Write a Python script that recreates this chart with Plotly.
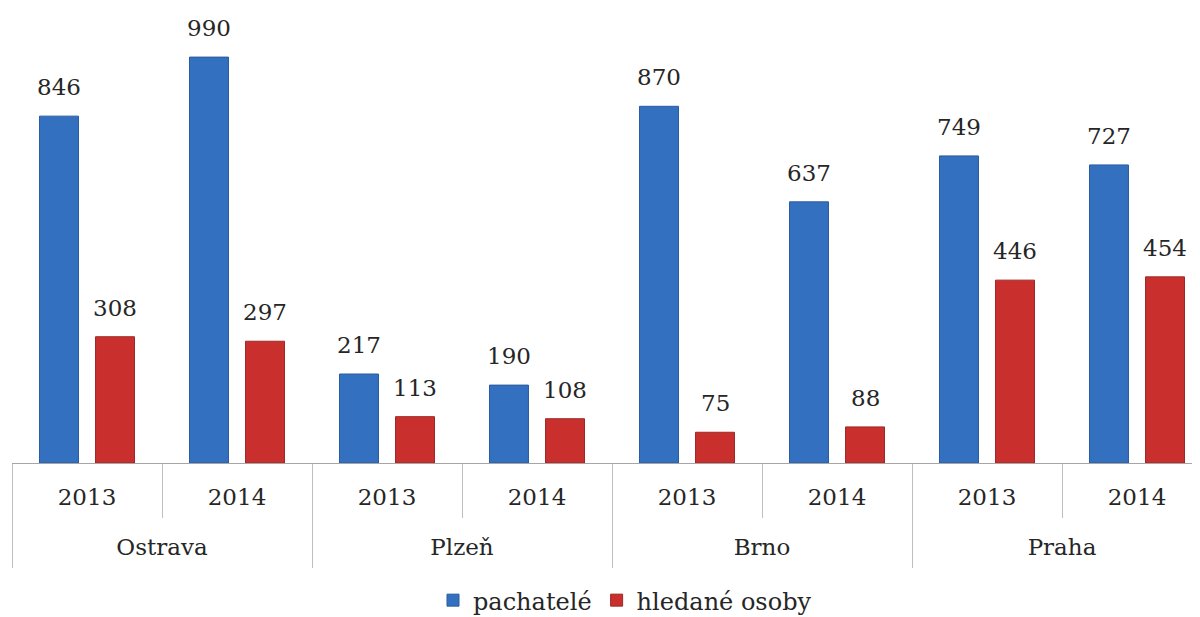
import plotly.graph_objects as go

cities = ["Ostrava", "Ostrava", "Plzeň", "Plzeň", "Brno", "Brno", "Praha", "Praha"]
years = ["2013", "2014", "2013", "2014", "2013", "2014", "2013", "2014"]
pachatele = [846, 990, 217, 190, 870, 637, 749, 727]
hledane = [308, 297, 113, 108, 75, 88, 446, 454]
series_names = ["pachatelé", "hledané osoby"]
city_names = ["Ostrava", "Plzeň", "Brno", "Praha"]

BLUE = "#3470C0"
BLUE_LINE = "#2A5C9E"
RED = "#C9302D"
RED_LINE = "#9E2826"
FONT = "DejaVu Serif, serif"
TXT = "#262626"
GRID = "#BFBFBF"
BARGAP = 0.253
GROUPGAP = 0.304
XRANGE = [-0.5, 7.42]
FS = 23

n = len(years)
per_city = n // len(city_names)

fig = go.Figure()
fig.add_trace(go.Bar(x=[cities, years], y=pachatele, name=series_names[0],
                     marker=dict(color=BLUE, line=dict(color=BLUE_LINE, width=1))))
fig.add_trace(go.Bar(x=[cities, years], y=hledane, name=series_names[1],
                     marker=dict(color=RED, line=dict(color=RED_LINE, width=1))))

off = (1 - BARGAP) / 4
for i, (a, b) in enumerate(zip(pachatele, hledane)):
    for val, dx in ((a, -off), (b, off)):
        fig.add_annotation(x=i + dx, y=val, xref="x", yref="y", text=str(val),
                           showarrow=False, yanchor="middle", yshift=29,
                           font=dict(family=FONT, size=FS, color=TXT))

year_pos = list(range(n))
year_bounds = [i - 0.5 for i in range(n + 1)]
city_pos = [c * per_city + (per_city - 1) / 2 for c in range(len(city_names))]
city_bounds = [c * per_city - 0.5 for c in range(len(city_names) + 1)]

# invisible helper traces so the two label axes are drawn
fig.add_trace(go.Scatter(x=year_pos, y=[None] * n, xaxis="x2", yaxis="y",
                         showlegend=False, hoverinfo="skip", mode="markers"))
fig.add_trace(go.Scatter(x=city_pos, y=[None] * len(city_pos), xaxis="x3", yaxis="y",
                         showlegend=False, hoverinfo="skip", mode="markers"))

fig.update_layout(
    width=1192, height=609,
    margin=dict(l=4, r=0, t=4, b=154, autoexpand=False),
    plot_bgcolor="white", paper_bgcolor="white",
    barmode="group", bargap=BARGAP, bargroupgap=GROUPGAP,
    font=dict(family=FONT, size=FS, color=TXT),
    showlegend=True,
    legend=dict(orientation="h", x=0.516, xanchor="center", y=-0.305, yanchor="middle",
                font=dict(family=FONT, size=24, color=TXT), itemwidth=30),
    xaxis=dict(type="multicategory", range=XRANGE, showline=True,
               linecolor="#A6A6A6", linewidth=1, ticks="", showticklabels=False,
               showdividers=False, showgrid=False, automargin=False),
    xaxis2=dict(overlaying="x", anchor="y", side="bottom", range=XRANGE,
                tickmode="array", tickvals=year_pos, ticktext=years, ticks="",
                ticklabelstandoff=18, showline=False, showgrid=False, zeroline=False,
                tickfont=dict(family=FONT, size=FS, color=TXT), automargin=False,
                minor=dict(tickmode="array", tickvals=year_bounds, ticks="outside",
                           ticklen=54, tickcolor=GRID, showgrid=False)),
    xaxis3=dict(overlaying="x", anchor="y", side="bottom", range=XRANGE,
                tickmode="array", tickvals=city_pos, ticktext=city_names, ticks="",
                ticklabelstandoff=68, showline=False, showgrid=False, zeroline=False,
                tickfont=dict(family=FONT, size=FS, color=TXT), automargin=False,
                minor=dict(tickmode="array", tickvals=city_bounds, ticks="outside",
                           ticklen=104, tickcolor=GRID, showgrid=False)),
    yaxis=dict(range=[0, 1100], visible=False, showgrid=False),
)

fig.write_html("out.html")
